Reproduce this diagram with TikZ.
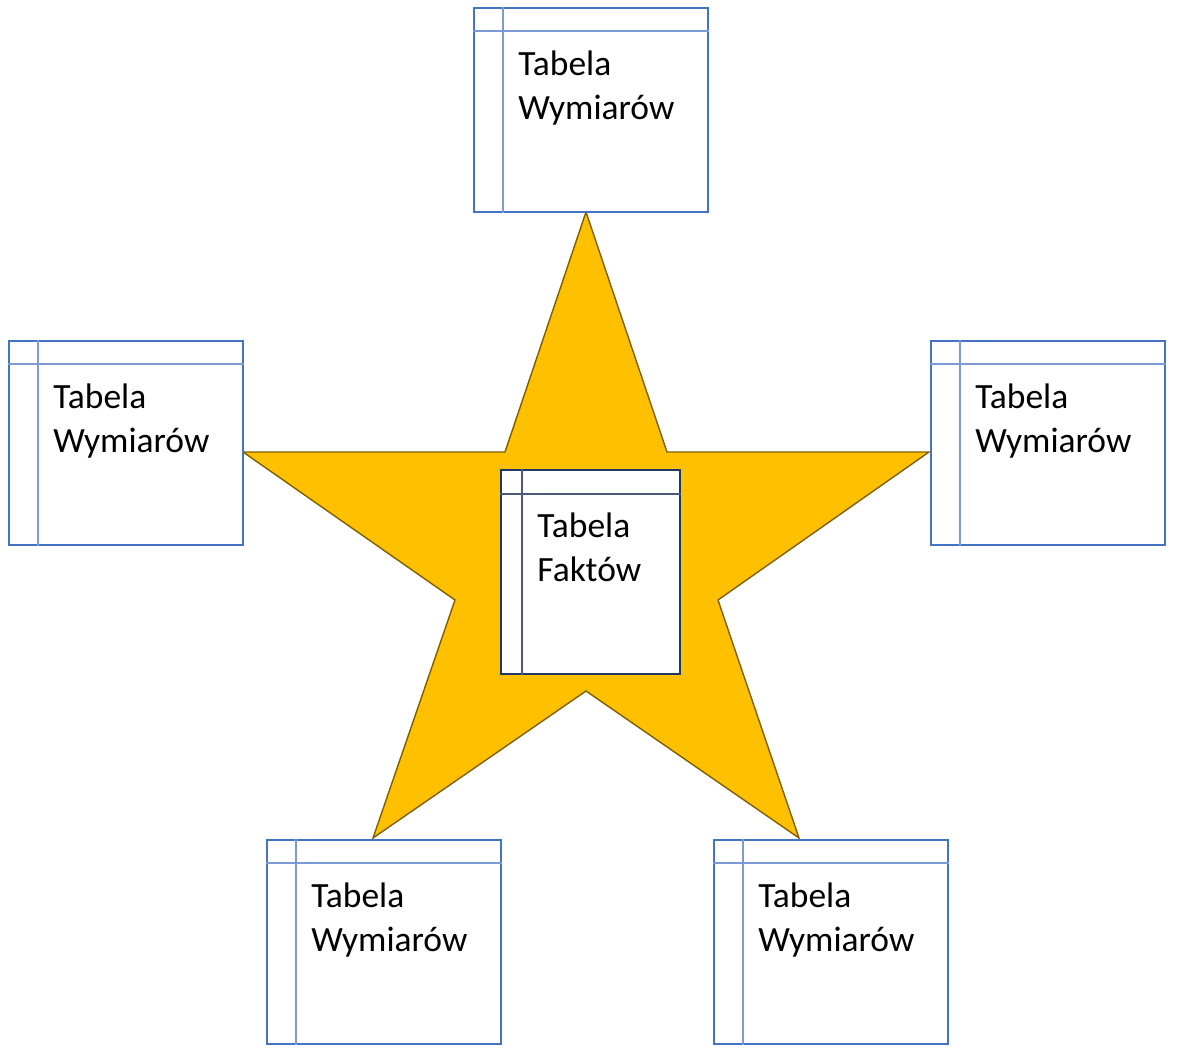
\documentclass[tikz,border=0pt]{standalone}
\usepackage{fontspec}
\setmainfont{Carlito}
\usetikzlibrary{positioning}
\definecolor{dimblue}{HTML}{4472C4}
\definecolor{dimline}{HTML}{7C9BD6}
\definecolor{factnavy}{HTML}{1F3864}
\definecolor{factline}{HTML}{4A5A7A}
\definecolor{stargold}{HTML}{FFC000}
\definecolor{staredge}{HTML}{7F6000}

\begin{document}
\begin{tikzpicture}[
    x=0.02cm, y=-0.02cm,
    dimtab/.style={draw=dimblue, fill=white, line width=1.1pt, minimum width=4.68cm, minimum height=4.08cm, inner sep=0pt},
    facttab/.style={draw=factnavy, fill=white, line width=1.1pt, minimum width=3.58cm, minimum height=4.08cm, inner sep=0pt},
    lbl/.style={font=\fontsize{20.2}{24.9}\selectfont, align=left, inner sep=0pt, anchor=north west},
  ]
  \useasboundingbox (0,0) rectangle (1178,1055);

  % the star behind everything
  \draw[fill=stargold, draw=staredge, line width=0.8pt, line join=miter]
    (586,212) -- (505,452) -- (243,452) -- (455,600) -- (373,838) -- (586,691)
    -- (799,838) -- (718,600) -- (929,452) -- (667,452) -- cycle;

  % dimension tables: name / centre
  \foreach \n/\cx/\cy in {top/591/110, left/126/443, right/1048/443, botleft/384/942, botright/831/942}{
    \node[dimtab] (\n) at (\cx,\cy) {};
    \draw[dimline, line width=0.9pt] ([yshift=-0.48cm]\n.north west) -- ([yshift=-0.48cm]\n.north east);
    \draw[dimline, line width=0.9pt] ([xshift=0.6cm]\n.north west) -- ([xshift=0.6cm]\n.south west);
    \node[lbl] (\n-txt) at ([xshift=0.9cm, yshift=-0.87cm]\n.north west) {Tabela\\Wymiarów};
  }

  % fact table in the middle
  \node[facttab] (fact) at (590.5,572) {};
  \draw[factline, line width=0.9pt] ([yshift=-0.5cm]fact.north west) -- ([yshift=-0.5cm]fact.north east);
  \draw[factline, line width=0.9pt] ([xshift=0.44cm]fact.north west) -- ([xshift=0.44cm]fact.south west);
  \node[lbl] (fact-txt) at ([xshift=0.74cm, yshift=-0.87cm]fact.north west) {Tabela\\Faktów};
\end{tikzpicture}
\end{document}
